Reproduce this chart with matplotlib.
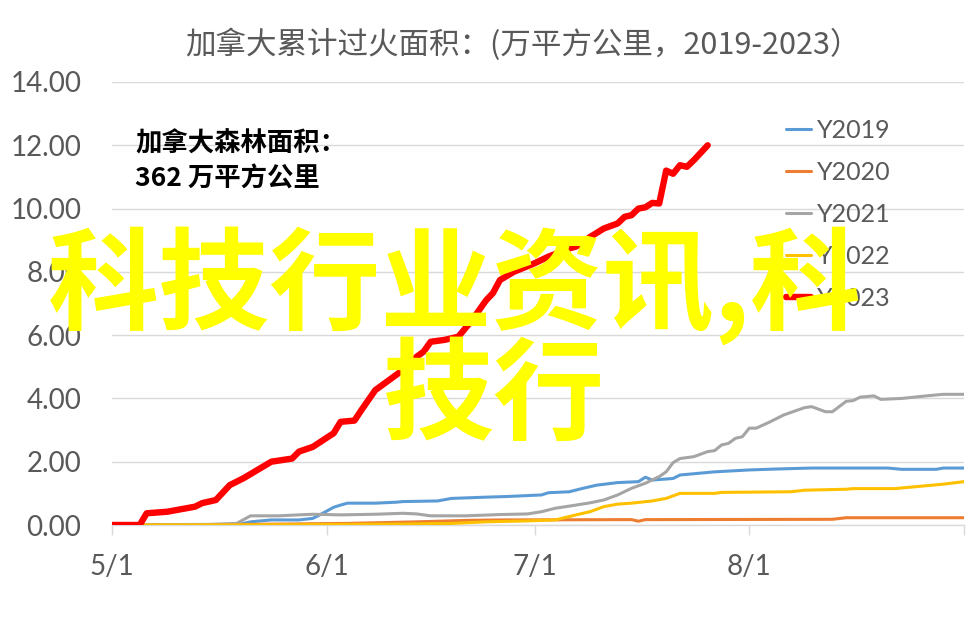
import matplotlib
matplotlib.use("Agg")
import matplotlib.pyplot as plt
import matplotlib.dates as mdates
from datetime import datetime

# ---------------- data (cumulative burned area, 10k km²) ----------------
dates_2019 = ["5/1", "5/19", "5/20", "5/21", "5/24", "5/28", "5/30", "5/31", "6/2", "6/3", "6/4",
              "6/8", "6/11", "6/12", "6/17", "6/19", "6/24", "6/27", "7/2", "7/3", "7/6", "7/8",
              "7/10", "7/13", "7/16", "7/17", "7/18", "7/21", "7/22", "7/27", "8/1", "8/5",
              "8/10", "8/21", "8/23", "8/28", "8/29", "9/1"]
vals_2019 = [0, 0, 0.05, 0.10, 0.16, 0.16, 0.21, 0.32, 0.56, 0.63, 0.69,
             0.69, 0.72, 0.74, 0.76, 0.84, 0.88, 0.90, 0.95, 1.02, 1.05, 1.16,
             1.26, 1.34, 1.37, 1.51, 1.42, 1.47, 1.58, 1.68, 1.74, 1.77,
             1.80, 1.80, 1.76, 1.76, 1.80, 1.80]

dates_2020 = ["5/1", "5/21", "6/4", "6/14", "6/22", "6/26", "7/15", "7/16", "7/17", "8/13", "8/15", "9/1"]
vals_2020 = [0, 0.02, 0.05, 0.10, 0.15, 0.16, 0.17, 0.12, 0.17, 0.18, 0.23, 0.23]

dates_2021 = ["5/1", "5/15", "5/19", "5/21", "5/25", "5/30", "6/3", "6/8", "6/12", "6/14", "6/16",
              "6/21", "6/26", "6/30", "7/2", "7/4", "7/7", "7/9", "7/11", "7/13", "7/15", "7/17",
              "7/19", "7/20", "7/21", "7/22", "7/24", "7/26", "7/27", "7/28", "7/29", "7/30",
              "7/31", "8/1", "8/2", "8/4", "8/6", "8/9", "8/10", "8/12", "8/13", "8/15", "8/16",
              "8/17", "8/19", "8/20", "8/23", "8/27", "8/29", "9/1"]
vals_2021 = [0, 0.02, 0.05, 0.29, 0.29, 0.34, 0.32, 0.34, 0.37, 0.35, 0.29,
             0.29, 0.33, 0.35, 0.42, 0.53, 0.63, 0.70, 0.79, 0.95, 1.16, 1.32,
             1.53, 1.68, 1.97, 2.10, 2.16, 2.32, 2.35, 2.53, 2.58, 2.74,
             2.79, 3.06, 3.06, 3.26, 3.48, 3.71, 3.74, 3.58, 3.58, 3.91, 3.93,
             4.04, 4.08, 3.97, 4.00, 4.09, 4.13, 4.13]

dates_2022 = ["5/1", "5/28", "6/12", "6/19", "6/24", "6/30", "7/4", "7/7", "7/9", "7/11", "7/13",
              "7/15", "7/18", "7/20", "7/22", "7/27", "7/28", "8/7", "8/9", "8/15", "8/16",
              "8/22", "8/25", "8/29", "9/1"]
vals_2022 = [0, 0.01, 0.03, 0.05, 0.10, 0.13, 0.16, 0.32, 0.42, 0.58, 0.66,
             0.69, 0.76, 0.84, 1.00, 1.00, 1.03, 1.05, 1.10, 1.13, 1.15,
             1.15, 1.21, 1.29, 1.37]

dates_2023 = ["5/1", "5/5", "5/6", "5/9", "5/13", "5/14", "5/16", "5/18", "5/20", "5/22", "5/24",
              "5/27", "5/28", "5/30", "6/2", "6/3", "6/5", "6/6", "6/8", "6/10", "6/12", "6/14",
              "6/15", "6/16", "6/18", "6/20", "6/22", "6/24", "6/25", "6/26", "6/28", "7/1",
              "7/3", "7/6", "7/7", "7/9", "7/11", "7/13", "7/14", "7/15", "7/16", "7/17",
              "7/18", "7/19", "7/20", "7/21", "7/22", "7/23", "7/24", "7/26"]
vals_2023 = [0, 0, 0.37, 0.42, 0.58, 0.69, 0.79, 1.26, 1.48, 1.74, 2.00,
             2.10, 2.32, 2.47, 2.90, 3.26, 3.30, 3.63, 4.26, 4.58, 4.90, 5.32,
             5.48, 5.79, 5.85, 5.95, 6.48, 7.10, 7.33, 7.74, 8.00, 8.27,
             8.48, 8.74, 8.80, 9.10, 9.37, 9.53, 9.74, 9.79, 10.00, 10.04,
             10.18, 10.16, 11.20, 11.10, 11.37, 11.32, 11.53, 12.00]

series_names = ["Y2019", "Y2020", "Y2021", "Y2022", "Y2023"]
series_colors = ["#5B9BD5", "#ED7D31", "#A5A5A5", "#FFC000", "#FF0000"]
x_tick_labels = ["5/1", "6/1", "7/1", "8/1", ""]
x_tick_dates = ["5/1", "6/1", "7/1", "8/1", "9/1"]
y_ticks = [0, 2, 4, 6, 8, 10, 12, 14]

title_text = "加拿大累计过火面积：(万平方公里，2019-2023）"
note_line1 = "加拿大森林面积："
note_line2 = "362 万平方公里"
watermark_line1 = "科技行业资讯,科"
watermark_line2 = "技行"


def to_date(s):
    m, d = s.split("/")
    return datetime(2023, int(m), int(d))


W, H = 980, 643
fig = plt.figure(figsize=(W / 100, H / 100), dpi=100)
fig.patch.set_facecolor("white")
L, R, B, T = 112, 964, 525, 82
ax = fig.add_axes([L / W, 1 - B / H, (R - L) / W, (B - T) / H])

all_dates = [dates_2019, dates_2020, dates_2021, dates_2022, dates_2023]
all_vals = [vals_2019, vals_2020, vals_2021, vals_2022, vals_2023]
widths = [2.2, 2.2, 2.2, 2.2, 4.6]
for name, col, ds, vs, lw in zip(series_names, series_colors, all_dates, all_vals, widths):
    ax.plot([to_date(s) for s in ds], vs, color=col, lw=lw, label=name,
            solid_joinstyle="round", solid_capstyle="round", zorder=3)

ax.set_xlim(to_date("5/1"), to_date("9/1"))
ax.set_ylim(0, 14)
ax.set_yticks(y_ticks)
ax.set_yticklabels([f"{v:.2f}" for v in y_ticks])
ax.set_xticks([to_date(s) for s in x_tick_dates])
ax.set_xticklabels(x_tick_labels)

tick_font = dict(family=["Lato", "DejaVu Sans"], size=20, color="#595959")
for lab in ax.get_xticklabels() + ax.get_yticklabels():
    lab.set_fontfamily(tick_font["family"])
    lab.set_fontsize(tick_font["size"])
    lab.set_color(tick_font["color"])

ax.grid(axis="y", color="#D9D9D9", lw=1.0, zorder=0)
ax.set_axisbelow(True)
for sp in ["top", "right", "left"]:
    ax.spines[sp].set_visible(False)
ax.spines["bottom"].set_color("#D9D9D9")
ax.spines["bottom"].set_linewidth(1.0)
ax.tick_params(axis="x", direction="out", length=7, width=1.0, color="#D9D9D9", pad=14)
ax.tick_params(axis="y", length=0, pad=22)

leg = ax.legend(loc="upper left", bbox_to_anchor=(786 / W, 1 - 119 / H),
                bbox_transform=fig.transFigure, frameon=False,
                prop={"family": ["Lato", "DejaVu Sans"], "size": 18},
                handlelength=1.0, handletextpad=0.25, labelspacing=0.76,
                borderaxespad=0, borderpad=0)
for t in leg.get_texts():
    t.set_color("#595959")

cjk = ["Noto Sans CJK SC", "DejaVu Sans"]
fig.text(523 / W, 1 - 45 / H, title_text, ha="center", va="center",
         fontsize=22, color="#595959", family=cjk)
fig.text(135 / W, 1 - 144 / H, note_line1, ha="left", va="center",
         fontsize=19, color="black", family=cjk, fontweight="bold")
fig.text(135 / W, 1 - 179 / H, note_line2, ha="left", va="center",
         fontsize=19, color="black", family=cjk, fontweight="bold")

fig.text(48 / W, 1 - 286 / H, watermark_line1, ha="left", va="center",
         fontsize=80, color="#FFFF00", family=cjk, fontweight="bold", zorder=10)
fig.text(383 / W, 1 - 399 / H, watermark_line2, ha="left", va="center",
         fontsize=80, color="#FFFF00", family=cjk, fontweight="bold", zorder=10)

fig.savefig("out.png", dpi=100, facecolor="white")
